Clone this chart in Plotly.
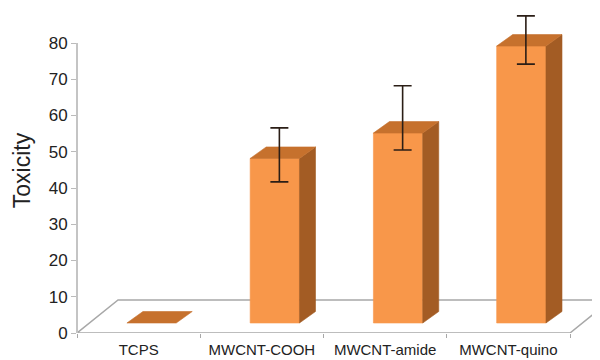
import plotly.graph_objects as go

# ---- data ----
categories = ["TCPS", "MWCNT-COOH", "MWCNT-amide", "MWCNT-quino"]
toxicity = [0.0, 45.4, 52.4, 76.4]
err_plus = [None, 7.6, 12.2, 7.5]
err_minus = [None, 7.3, 5.5, 5.8]
y_ticks = [0, 10, 20, 30, 40, 50, 60, 70, 80]

# ---- style / pseudo-3D geometry (axis units) ----
W = 0.40          # bar width
OFF_X, OFF_Y = 0.105, 2.76   # front plane of bars relative to floor front
DX, DY = 0.13, 3.17          # bar depth
FDX, FDY = 0.333, 9.1        # floor depth
EDX, EDY = 0.037, 0.83       # error-bar plane
FRONT = "#F8974A"
TOP = "#C6712D"
SIDE = "#A35C24"
GRID = "#A8A8A8"
Y_TOP = 89.66

fig = go.Figure()

# floor
n = len(categories)
fx = [-0.5, n - 0.5, n - 0.5 + FDX, -0.5 + FDX, -0.5]
fy = [0, 0, FDY, FDY, 0]
fig.add_trace(go.Scatter(x=fx, y=fy, mode="lines", line=dict(color=GRID, width=1.5),
                         hoverinfo="skip", showlegend=False))

def poly(xs, ys, color):
    fig.add_trace(go.Scatter(x=xs + [xs[0]], y=ys + [ys[0]], mode="lines", fill="toself",
                             fillcolor=color, line=dict(color=color, width=0.6),
                             hoverinfo="skip", showlegend=False))

for i, v in enumerate(toxicity):
    x0 = i + OFF_X - W / 2
    x1 = i + OFF_X + W / 2
    b = OFF_Y
    t = OFF_Y + v
    if v > 0:
        poly([x0, x1, x1, x0], [b, b, t, t], FRONT)
        poly([x1, x1 + DX, x1 + DX, x1], [b, b + DY, t + DY, t], SIDE)
    poly([x0, x1, x1 + DX, x0 + DX], [t, t, t + DY, t + DY], TOP)

# error bars
ex, ey, ep, em = [], [], [], []
for i, v in enumerate(toxicity):
    if err_plus[i] is None:
        continue
    ex.append(i + OFF_X + EDX)
    ey.append(OFF_Y + v + EDY)
    ep.append(err_plus[i])
    em.append(err_minus[i])
fig.add_trace(go.Scatter(x=ex, y=ey, mode="markers",
                         marker=dict(size=1, color="rgba(0,0,0,0)"),
                         error_y=dict(type="data", symmetric=False, array=ep, arrayminus=em,
                                      color="#2B1E16", thickness=1.6, width=9),
                         hoverinfo="skip", showlegend=False))

# vertical axis line (0 .. 80 only)
fig.add_shape(type="line", xref="paper", x0=0, x1=0, yref="y", y0=0, y1=y_ticks[-1],
              line=dict(color="#C4C4C4", width=2))

fig.update_layout(
    width=592, height=352,
    margin=dict(l=69, r=0, t=0, b=27),
    paper_bgcolor="white", plot_bgcolor="white",
    font=dict(family="Liberation Sans, Arial, sans-serif", color="#222222"),
    showlegend=False,
)
fig.update_xaxes(
    range=[-0.5, n - 0.5 + 30 / 123.25],
    tickmode="array", tickvals=list(range(n)), ticktext=categories,
    ticks="", showline=False, showgrid=False, zeroline=False,
    tickfont=dict(size=15, color="#222222"), ticklabelstandoff=6,
    minor=dict(tickmode="array", tickvals=[k - 0.5 for k in range(n + 1)],
               ticks="outside", ticklen=4, tickcolor=GRID, tickwidth=1),
    fixedrange=True,
)
fig.update_yaxes(
    range=[0, Y_TOP], tickmode="array", tickvals=y_ticks,
    ticks="outside", ticklen=5, tickcolor="#BBBBBB", tickwidth=1,
    showline=False, showgrid=False, zeroline=False,
    tickfont=dict(size=17, color="#222222"),
    title=dict(text="Toxicity", font=dict(size=23, color="#222222"), standoff=11),
    automargin=False, fixedrange=True,
)

fig.write_html("out.html")
